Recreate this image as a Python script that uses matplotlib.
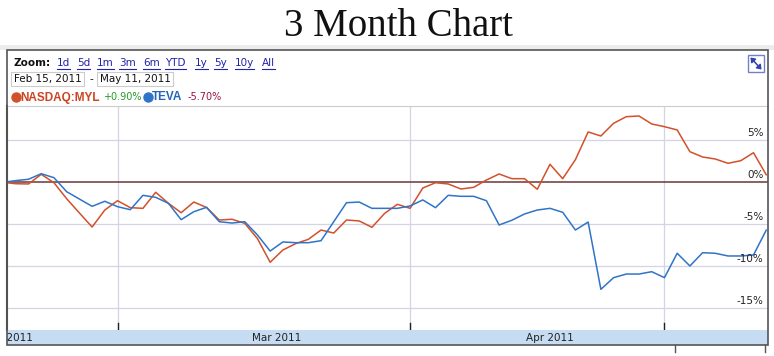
import matplotlib
matplotlib.use("Agg")
import matplotlib.pyplot as plt
import matplotlib.transforms as mtransforms
from matplotlib.patches import Rectangle, FancyArrowPatch
from matplotlib.lines import Line2D

# --- data: % change since Feb 15, 2011, one value per trading day ---
myl_pct = [0.0, -0.17, -0.2, 0.95, -0.05, -1.95, -3.65, -5.32, -3.3, -2.19,
           -3.02, -3.1, -1.19, -2.5, -3.62, -2.35, -3.0, -4.49, -4.4, -4.88,
           -6.7, -9.52, -8.06, -7.3, -6.79, -5.68, -6.04, -4.49, -4.6, -5.36,
           -3.7, -2.62, -3.1, -0.68, -0.05, -0.2, -0.8, -0.6, 0.27, 0.99,
           0.43, 0.43, -0.83, 2.14, 0.43, 2.7, 5.99, 5.51, 7.02, 7.81,
           7.89, 6.94, 6.62, 6.23, 3.64, 3.01, 2.77, 2.26, 2.57, 3.52, 0.90]
teva_pct = [0.0, 0.2, 0.36, 1.02, 0.55, -1.12, -1.99, -2.86, -2.26, -2.9,
            -3.26, -1.55, -1.79, -2.5, -4.45, -3.5, -2.98, -4.69, -4.85, -4.69,
            -6.27, -8.18, -7.1, -7.19, -7.19, -6.95, -4.69, -2.43, -2.35, -3.1,
            -3.1, -3.1, -2.82, -2.1, -3.02, -1.55, -1.67, -1.67, -2.19, -5.08,
            -4.52, -3.77, -3.3, -3.1, -3.57, -5.68, -4.73, -12.74, -11.35, -10.92,
            -10.92, -10.64, -11.35, -8.45, -9.96, -8.38, -8.45, -8.77, -8.77, -8.65, -5.70]

# trading-day index where each month begins (Feb starts before the window)
month_start = [-10, 9, 32, 52]
month_names = ["Feb 2011", "Mar 2011", "Apr 2011"]
y_ticks = [5, 0, -5, -10, -15]
zoom_links = ["1d", "5d", "1m", "3m", "6m", "YTD", "1y", "5y", "10y", "All"]
date_from = "Feb 15, 2011"
date_to = "May 11, 2011"
myl_name, myl_change = "NASDAQ:MYL", "+0.90%"
teva_name, teva_change = "TEVA", "-5.70%"

W, H = 774, 356
RED = "#d2502a"
BLUE = "#2f74c8"


def px(x0, y0, x1, y1):
    return [x0 / W, 1 - y1 / H, (x1 - x0) / W, (y1 - y0) / H]


def fx(x):
    return x / W


def fy(y):
    return 1 - y / H


fig = plt.figure(figsize=(W / 100, H / 100), dpi=100)
fig.patch.set_facecolor("white")

fig.text(fx(398), fy(26), "3 Month Chart", family="Liberation Serif",
         fontsize=28, ha="center", va="center", color="#111111")

# light strip above the chart box
fig.patches.append(Rectangle((fx(0), fy(50)), 1, (50 - 45) / H,
                             transform=fig.transFigure, facecolor="#ececec",
                             edgecolor="none", zorder=0))

# --- main plot ---
ax = fig.add_axes(px(7, 106, 768, 330))
x = list(range(len(myl_pct)))
ax.plot(x, myl_pct, color=RED, lw=1.1, zorder=3)
ax.plot(x, teva_pct, color=BLUE, lw=1.1, zorder=3)
ax.set_xlim(0.31, 60.14)
ax.set_ylim(-17.58, 9.08)

for v in y_ticks:
    if v == 0:
        ax.axhline(0, color="#6e3535", lw=1.1, zorder=2)
    else:
        ax.axhline(v, color="#d4d4e6", lw=0.9, zorder=1)
    ax.text(0.994, v + 0.25, f"{v}%", transform=ax.get_yaxis_transform(),
            ha="right", va="bottom", fontsize=7.5, color="#222222",
            family="DejaVu Sans", zorder=4)

trans = mtransforms.blended_transform_factory(ax.transData, ax.transAxes)
for m in month_start[1:]:
    ax.axvline(m, color="#d4d4e6", lw=0.9, zorder=1)
    ax.plot([m, m], [0, 0.03], color="#222222", lw=1, transform=trans,
            clip_on=False, zorder=4)

ax.set_xticks([])
ax.set_yticks([])
for s in ["right", "bottom"]:
    ax.spines[s].set_visible(False)
ax.spines["top"].set_color("#cccccc")
ax.spines["left"].set_color("#444444")
ax.spines["left"].set_linewidth(1.5)

# --- month band ---
band = fig.add_axes(px(7, 330, 768, 345))
band.set_facecolor("#c6dcf3")
band.set_xlim(ax.get_xlim())
band.set_ylim(0, 1)
band.set_xticks([])
band.set_yticks([])
for s in band.spines.values():
    s.set_visible(False)
for i, name in enumerate(month_names):
    c = (month_start[i] + month_start[i + 1]) / 2 + 1
    band.text(c, 0.45, name, ha="center", va="center", fontsize=7.5,
              family="DejaVu Sans", color="#222222", clip_on=True)

# --- chart box frame ---
fig.patches.append(Rectangle((fx(7), fy(345)), (768 - 7) / W, (345 - 50) / H,
                             transform=fig.transFigure, facecolor="none",
                             edgecolor="#555555", lw=1.2, zorder=5))
fig.lines.append(Line2D([fx(675), fx(675)], [fy(345), fy(352)],
                        transform=fig.transFigure, color="#555555", lw=1))
fig.lines.append(Line2D([fx(765), fx(765)], [fy(345), fy(352)],
                        transform=fig.transFigure, color="#555555", lw=1))

# --- header controls ---
fig.text(fx(13), fy(63), "Zoom:", fontsize=7.5, weight="bold",
         family="DejaVu Sans", va="center", color="#111111")
link_x = [57, 77, 97, 119, 143, 165, 195, 214, 235, 262]
link_texts = []
for lx, lab in zip(link_x, zoom_links):
    t = fig.text(fx(lx), fy(63), lab, fontsize=7.5, family="DejaVu Sans",
                 va="center", color="#2222aa")
    link_texts.append(t)

for x0, x1, lab in [(11, 84, date_from), (97, 173, date_to)]:
    fig.patches.append(Rectangle((fx(x0), fy(86)), (x1 - x0) / W, 14 / H,
                                 transform=fig.transFigure, facecolor="white",
                                 edgecolor="#cccccc", lw=0.8))
    fig.text(fx(x0 + 3), fy(79), lab, fontsize=7.5, family="DejaVu Sans",
             va="center", color="#111111")
fig.text(fx(90), fy(79), "-", fontsize=7.5, family="DejaVu Sans",
         va="center", color="#111111")

# legend row
fig.lines.append(Line2D([fx(16)], [fy(97)], marker="o", ms=6.5, color=RED,
                        transform=fig.transFigure))
fig.text(fx(20), fy(97.5), myl_name, fontsize=8.5, weight="bold",
         family="Liberation Sans", va="center", color="#cc4422")
fig.text(fx(103), fy(97.5), myl_change, fontsize=7, family="DejaVu Sans",
         va="center", color="#229922")
fig.lines.append(Line2D([fx(148)], [fy(97)], marker="o", ms=6.5, color=BLUE,
                        transform=fig.transFigure))
fig.text(fx(152), fy(97.5), teva_name, fontsize=8.5, weight="bold",
         family="Liberation Sans", va="center", color="#2266bb")
fig.text(fx(188), fy(97.5), teva_change, fontsize=7, family="DejaVu Sans",
         va="center", color="#991144")

# expand icon
fig.patches.append(Rectangle((fx(748), fy(72)), 16 / W, 17 / H,
                             transform=fig.transFigure, facecolor="white",
                             edgecolor="#7080cc", lw=1))
fig.patches.append(FancyArrowPatch((fx(750.5), fy(57.5)), (fx(761.5), fy(69.5)),
                                   transform=fig.transFigure,
                                   arrowstyle="<|-|>,head_length=0.6,head_width=0.45",
                                   mutation_scale=4, shrinkA=0, shrinkB=0,
                                   color="#3344aa", lw=1.1))

# underline the zoom links
fig.canvas.draw()
r = fig.canvas.get_renderer()
for t in link_texts:
    bb = t.get_window_extent(renderer=r)
    yb = bb.y0 - 0.5
    fig.lines.append(Line2D([bb.x0 / W, bb.x1 / W], [yb / H, yb / H],
                            transform=fig.transFigure, color="#2222aa", lw=0.8))

fig.savefig("out.png", dpi=100)
